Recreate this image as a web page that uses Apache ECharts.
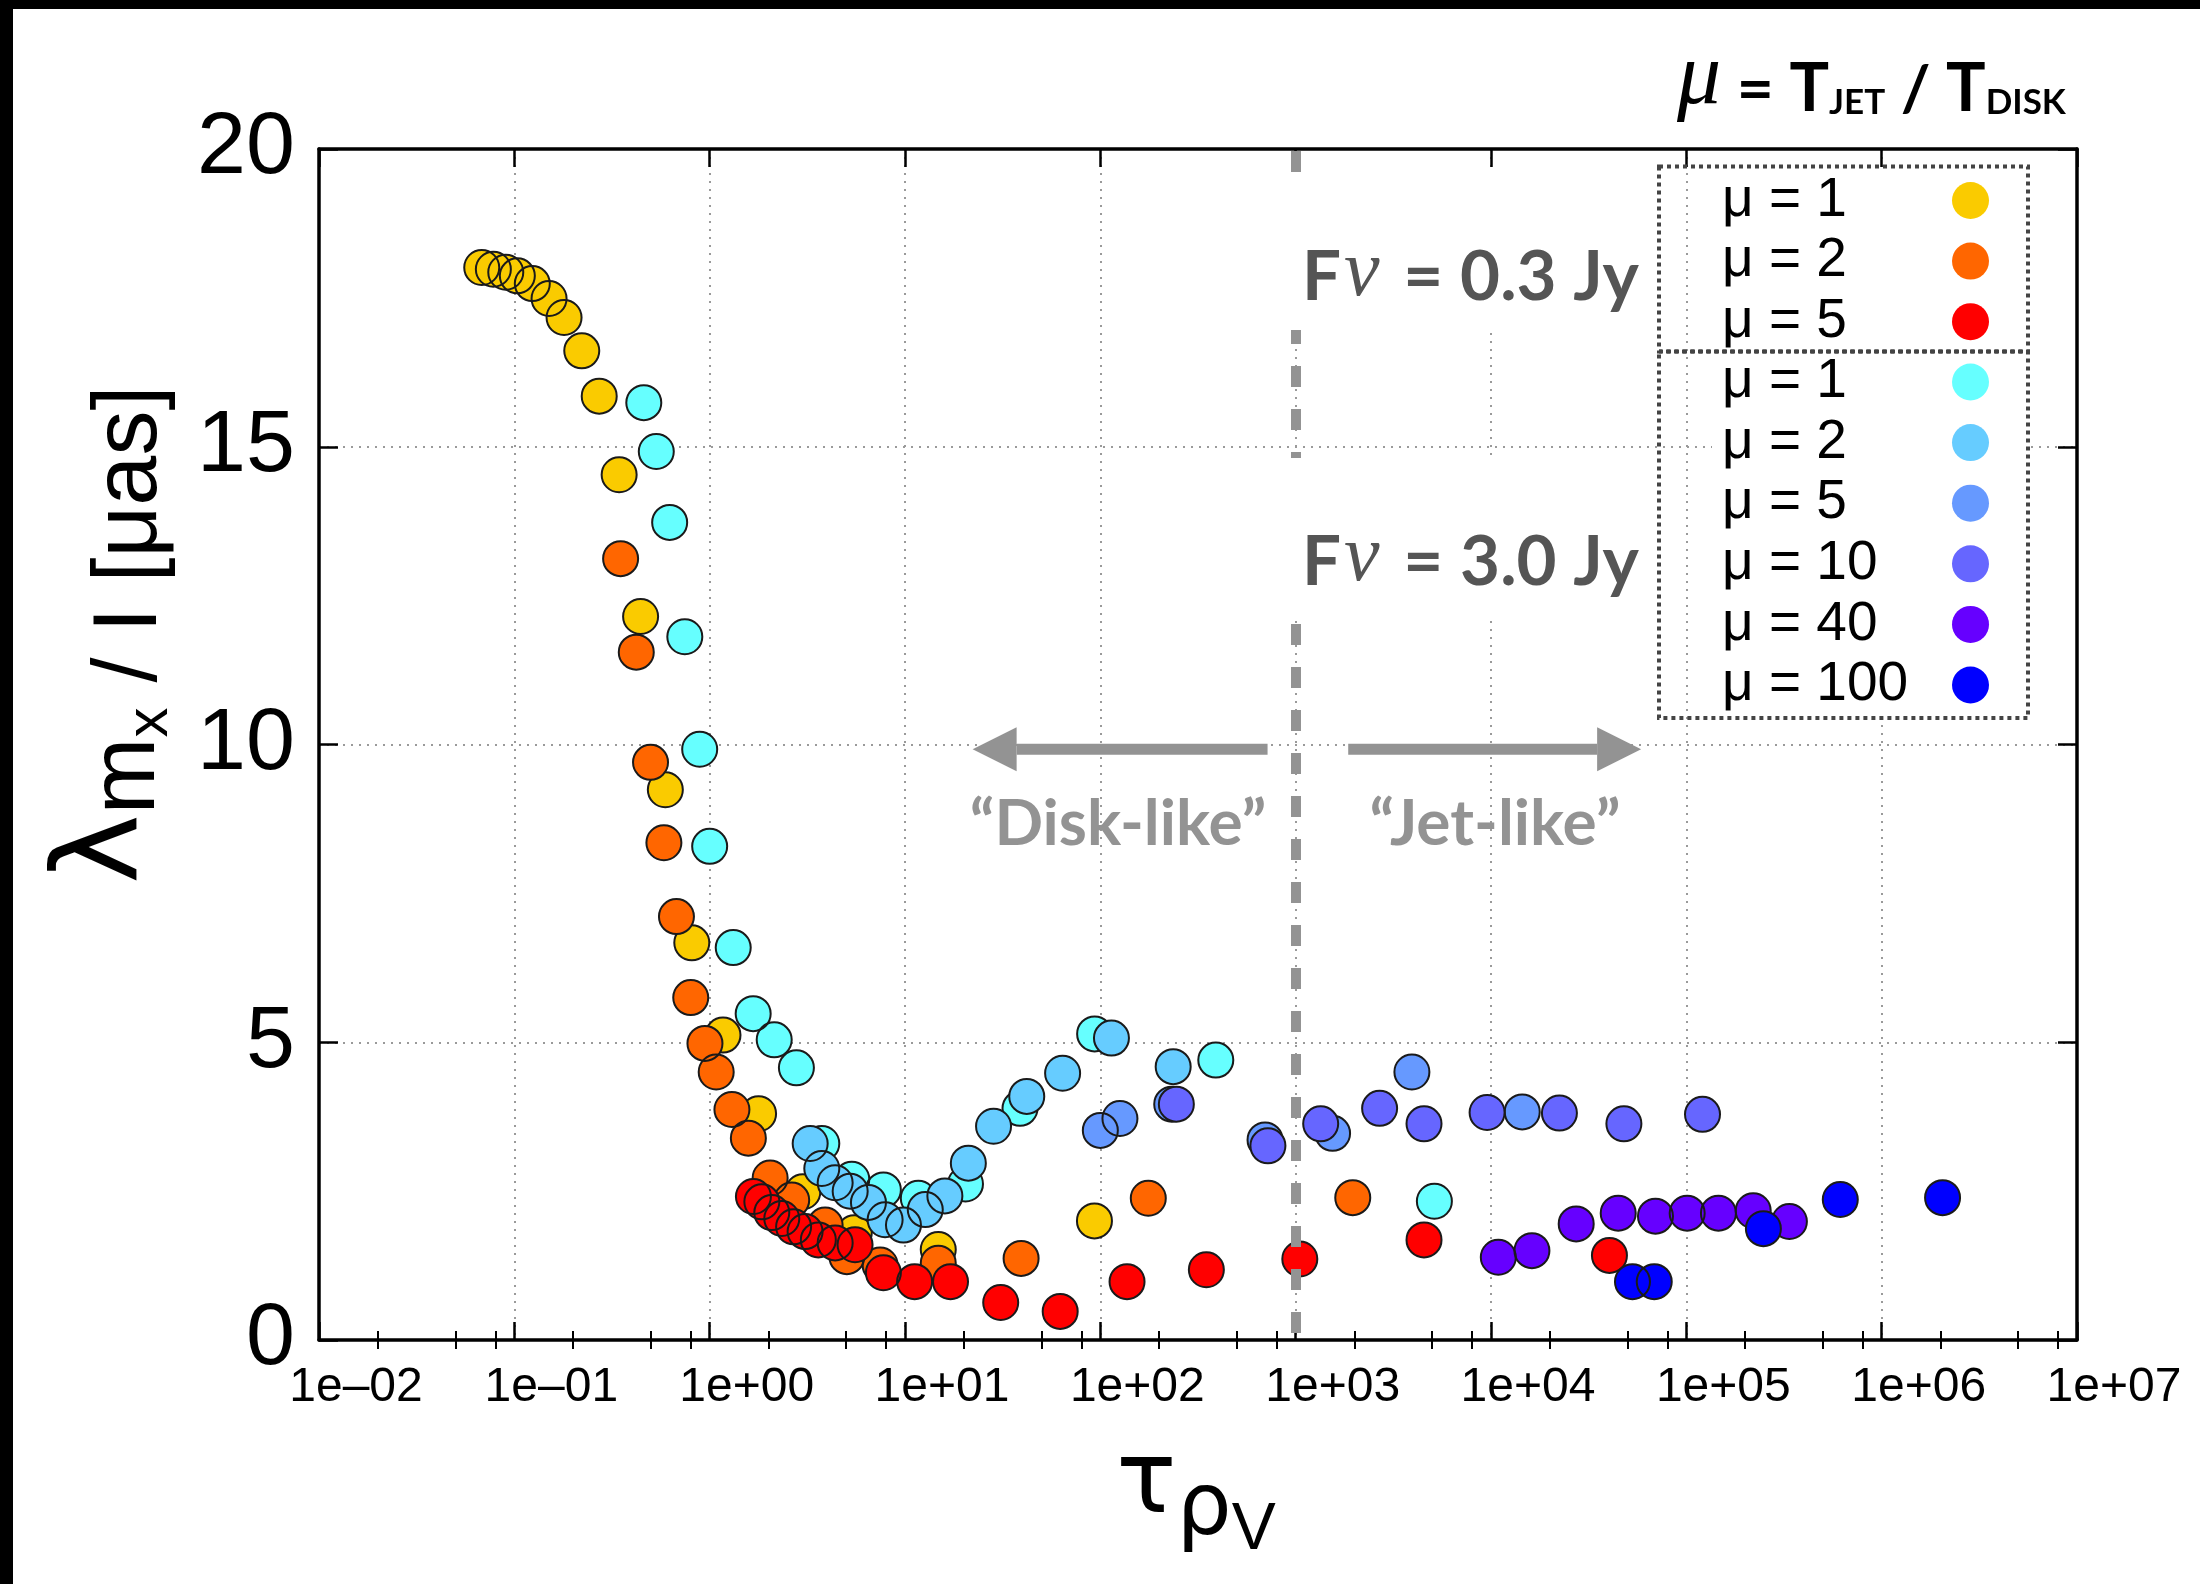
<!DOCTYPE html>
<html>
<head>
<meta charset="utf-8">
<script src="https://cdn.jsdelivr.net/npm/echarts@6/dist/echarts.min.js"></script>
<style>
html,body{margin:0;padding:0;background:#ffffff;}
#chart{width:2200px;height:1584px;}
</style>
</head>
<body>
<div id="chart"></div>
<script>
// ---------------- data ----------------
// axis ticks
const X_MIN = 0.01, X_MAX = 1e7;
const X_TICKS = [0.01, 0.1, 1, 10, 100, 1e3, 1e4, 1e5, 1e6, 1e7];
const X_TICK_LABELS = ['1e\u201302', '1e\u201301', '1e+00', '1e+01', '1e+02', '1e+03', '1e+04', '1e+05', '1e+06', '1e+07'];
const X_MINOR = [0.02, 0.05, 0.08, 0.2, 0.5, 0.8, 2, 5, 8, 20, 50, 80, 200, 500, 800, 2e3, 5e3, 8e3,
                 2e4, 5e4, 8e4, 2e5, 5e5, 8e5, 2e6, 5e6, 8e6];
const Y_MIN = 0, Y_MAX = 20, Y_STEP = 5;

// F_nu = 0.3 Jy
const jy03_mu1 = [[0.0681,18.01],[0.0781,17.98],[0.0904,17.93],[0.1036,17.87],[0.1236,17.74],[0.1506,17.49],
  [0.1797,17.17],[0.2214,16.61],[0.272,15.85],[0.344,14.53],[0.443,12.15],[0.593,9.24],[0.81,6.67],[1.17,5.12],
  [1.78,3.80],[3.0,2.49],[5.5,1.80],[14.8,1.52],[93.3,2.0]];
const jy03_mu2 = [[0.35,13.12],[0.421,11.55],[0.498,9.70],[0.583,8.35],[0.676,7.11],[0.80,5.75],[0.946,4.98],
  [1.08,4.50],[1.30,3.87],[1.578,3.39],[2.04,2.72],[2.63,2.35],[3.9,1.93],[5.04,1.40],[7.46,1.26],[14.8,1.29],
  [39.3,1.37],[176,2.38],[1960,2.39]];
const jy03_mu5 = [[1.675,2.41],[1.85,2.32],[2.08,2.14],[2.34,2.04],[2.69,1.90],[3.08,1.82],[3.60,1.68],[4.39,1.63],
  [5.55,1.60],[7.75,1.13],[11.2,0.98],[17.1,0.98],[30.9,0.63],[62.3,0.48],[137,0.98],[349,1.18],[1050,1.36],
  [4540,1.68],[40400,1.42]];
// F_nu = 3.0 Jy
const jy30_mu1 = [[0.46,15.74],[0.533,14.92],[0.624,13.73],[0.746,11.81],[0.889,9.92],[1.0,8.29],[1.32,6.59],
  [1.67,5.48],[2.14,5.04],[2.78,4.57],[3.75,3.30],[5.34,2.70],[7.75,2.52],[11.7,2.38],[20.4,2.62],[38.8,3.89],
  [93.5,5.14],[390,4.70],[5130,2.33]];
const jy30_mu2 = [[3.27,3.30],[3.75,2.88],[4.39,2.64],[5.24,2.50],[6.5,2.31],[7.91,2.02],[9.82,1.93],[12.7,2.19],
  [16.0,2.42],[21.1,2.97],[28.4,3.59],[42.0,4.09],[64.1,4.48],[114,5.07],[236,4.59]];
const jy30_mu5 = [[100,3.52],[126,3.72],[232,3.96],[697,3.36],[1545,3.47],[3936,4.50],[14450,3.83]];
const jy30_mu10 = [[245,3.96],[721,3.26],[1343,3.63],[2690,3.89],[4540,3.63],[9550,3.82],[22400,3.81],
  [47900,3.63],[121000,3.79]];
const jy30_mu40 = [[10900,1.39],[16200,1.50],[27300,1.95],[44800,2.13],[69500,2.08],[101000,2.13],[146000,2.13],
  [220000,2.17],[337000,1.99]];
const jy30_mu100 = [[53000,0.98],[68500,0.98],[248000,1.87],[614000,2.36],[2050000,2.39]];

// series labels
const LABELS_03 = ['\u03bc = 1', '\u03bc = 2', '\u03bc = 5'];
const LABELS_30 = ['\u03bc = 1', '\u03bc = 2', '\u03bc = 5', '\u03bc = 10', '\u03bc = 40', '\u03bc = 100'];

// annotation anchors (data space)
const DIVIDER_X = 1000;
const ARROW_Y = 9.92;
const LEFT_ARROW = [718, 22.2];     // tail, tip
const RIGHT_ARROW = [1858, 58700];  // tail, tip

// ---------------- style ----------------
const COLORS_03 = ['#FACB00', '#FF6600', '#FF0000'];
const COLORS_30 = ['#66FFFF', '#66CCFF', '#6699FF', '#6666FF', '#6600FF', '#0000FF'];
const SANS = 'Liberation Sans';
const AVE = 'Lato';
const SERIF = 'Liberation Serif';

const groups = [];
[jy03_mu1, jy03_mu2, jy03_mu5].forEach((d, i) => groups.push({name: '0.3|' + LABELS_03[i], color: COLORS_03[i], data: d}));
[jy30_mu1, jy30_mu2, jy30_mu5, jy30_mu10, jy30_mu40, jy30_mu100].forEach((d, i) => groups.push({name: '3.0|' + LABELS_30[i], color: COLORS_30[i], data: d}));

const chart = echarts.init(document.getElementById('chart'), null, {renderer: 'canvas', width: 2200, height: 1584});

function fmtX(v) {
  const i = X_TICKS.findIndex(t => Math.abs(Math.log10(t) - Math.log10(v)) < 1e-6);
  return i >= 0 ? X_TICK_LABELS[i] : '';
}

const gridLine = {show: true, lineStyle: {color: '#9a9a9a', width: 2, type: [2, 6]}};
const frameLine = {show: true, onZero: false, lineStyle: {color: '#000', width: 3.5}};
function logAxis(extra) {
  return Object.assign({type: 'log', logBase: 10, min: X_MIN, max: X_MAX, gridIndex: 0, splitNumber: 9,
    minorTick: {show: false}, minorSplitLine: {show: false}}, extra);
}
const majorTick = {show: true, inside: true, length: 18, lineStyle: {color: '#000', width: 2.5}, customValues: X_TICKS};
const minorTickX = {show: true, inside: true, length: 9, lineStyle: {color: '#000', width: 2}, customValues: X_MINOR};

const xAxes = [
  logAxis({position: 'bottom', axisLine: frameLine, axisTick: majorTick,
    axisLabel: {show: true, customValues: X_TICKS, formatter: fmtX, fontFamily: SANS, fontSize: 48, color: '#000',
      margin: 24, padding: [0, 0, 0, 74]}, splitLine: gridLine}),
  logAxis({position: 'top', axisLine: frameLine, axisTick: majorTick, axisLabel: {show: false}, splitLine: {show: false}}),
  logAxis({position: 'bottom', axisLine: {show: false}, axisTick: minorTickX, axisLabel: {show: false}, splitLine: {show: false}}),
  logAxis({position: 'top', axisLine: {show: false}, axisTick: minorTickX, axisLabel: {show: false}, splitLine: {show: false}})
];
const yAxes = [
  {type: 'value', min: Y_MIN, max: Y_MAX, interval: Y_STEP, position: 'left', axisLine: frameLine,
    axisTick: {show: true, inside: true, length: 19, lineStyle: {color: '#000', width: 2.5}},
    axisLabel: {show: true, fontFamily: SANS, fontSize: 88, color: '#000', margin: 24},
    splitLine: gridLine},
  {type: 'value', min: Y_MIN, max: Y_MAX, interval: Y_STEP, position: 'right', axisLine: frameLine,
    axisTick: {show: true, inside: true, length: 19, lineStyle: {color: '#000', width: 2.5}},
    axisLabel: {show: false}, splitLine: {show: false}}
];

const series = [];
groups.forEach((g, i) => {
  const fill = {name: g.name, type: 'scatter', xAxisIndex: 0, yAxisIndex: 0, data: g.data, symbol: 'circle',
    symbolSize: 35, itemStyle: {color: g.color, borderWidth: 0, opacity: 1}, silent: true,
    emphasis: {disabled: true}, z: 2};
  if (i === 0) {
    fill.markLine = {silent: true, z: 2.5, symbol: ['none', 'none'], label: {show: false}, animation: false,
      emphasis: {disabled: true},
      lineStyle: {color: '#939393', width: 10, type: [21, 22], dashOffset: 36, cap: 'butt', opacity: 1},
      data: [[{coord: [DIVIDER_X, Y_MIN]}, {coord: [DIVIDER_X, Y_MAX]}]]};
  }
  series.push(fill);
  series.push({name: g.name + '|o', type: 'scatter', xAxisIndex: 0, yAxisIndex: 0, data: g.data, symbol: 'circle',
    symbolSize: 35, itemStyle: {color: 'rgba(0,0,0,0)', borderColor: '#1a1a1a', borderWidth: 2, opacity: 1},
    silent: true, emphasis: {disabled: true}, z: 2});
});

function legendCfg(names, top) {
  return {show: true, orient: 'vertical', left: 1722, top: top, align: 'right', padding: 0,
    itemWidth: 37, itemHeight: 37, itemGap: 5.6, icon: 'circle', selectedMode: false,
    itemStyle: {borderWidth: 0},
    data: names,
    formatter: n => '{t|' + n.split('|')[1] + '}',
    textStyle: {rich: {t: {width: 225, align: 'left', fontFamily: SANS, fontSize: 55, color: '#000'}}}};
}

chart.setOption({
  animation: false,
  backgroundColor: '#ffffff',
  grid: {left: 319, top: 149, width: 1758, height: 1191, containLabel: false},
  xAxis: xAxes,
  yAxis: yAxes,
  legend: [legendCfg(groups.slice(0, 3).map(g => g.name), 173),
           legendCfg(groups.slice(3).map(g => g.name), 354.5)],
  series: series
});

// ---------------- annotations ----------------
const toPx = (x, y) => chart.convertToPixel({xAxisIndex: 0, yAxisIndex: 0}, [x, y]);
const g = [];
// white background of the key entries and the labels' boxes
g.push({type: 'rect', z: 1, shape: {x: 1712, y: 170, width: 314, height: 546}, style: {fill: '#ffffff'}});
g.push({type: 'rect', z: 3, shape: {x: 1283, y: 173, width: 372, height: 157}, style: {fill: '#ffffff'}});
g.push({type: 'rect', z: 3, shape: {x: 1283, y: 458, width: 372, height: 159}, style: {fill: '#ffffff'}});
// key frames
g.push({type: 'rect', z: 5, shape: {x: 1659, y: 166.6, width: 369, height: 185}, style: {fill: 'none', stroke: '#444', lineWidth: 4, lineDash: [4, 4]}});
g.push({type: 'rect', z: 5, shape: {x: 1659, y: 351.6, width: 369, height: 366.4}, style: {fill: 'none', stroke: '#444', lineWidth: 4, lineDash: [4, 4]}});

// arrows
function arrow(tail, tip) {
  const a = toPx(tail, ARROW_Y), b = toPx(tip, ARROW_Y);
  const dir = Math.sign(b[0] - a[0]);
  const head = 44, half = 22, th = 11;
  const base = b[0] - dir * head;
  g.push({type: 'rect', z: 5, shape: {x: Math.min(a[0], base), y: a[1] - th / 2, width: Math.abs(base - a[0]), height: th}, style: {fill: '#939393'}});
  g.push({type: 'polygon', z: 5, shape: {points: [[b[0], b[1]], [base, b[1] - half], [base, b[1] + half]]}, style: {fill: '#939393'}});
}
arrow(LEFT_ARROW[0], LEFT_ARROW[1]);
arrow(RIGHT_ARROW[0], RIGHT_ARROW[1]);

// texts
g.push({type: 'text', z: 6, x: 1118, y: 824, style: {text: '\u201cDisk-like\u201d', fill: '#939393', font: 'bold 64px Lato', align: 'center', verticalAlign: 'middle'}});
g.push({type: 'text', z: 6, x: 1495, y: 824, style: {text: '\u201cJet-like\u201d', fill: '#939393', font: 'bold 64px Lato', align: 'center', verticalAlign: 'middle'}});

function fluxLabel(val, baseY) {
  return {type: 'text', z: 6, x: 1302, y: baseY - 72, style: {
    text: '{F|F}{n|\u03bd}{r| = ' + val + ' Jy}', align: 'left', verticalAlign: 'top',
    rich: {
      F: {fontFamily: AVE, fontWeight: 'bold', fontSize: 69, fill: '#555555', padding: [15, 0, 0, 0]},
      n: {fontFamily: SERIF, fontStyle: 'italic', fontSize: 80, fill: '#555555', padding: [8, 7, 0, 3]},
      r: {fontFamily: AVE, fontWeight: 'bold', fontSize: 69, fill: '#555555', padding: [15, 0, 0, 0]}
    }}};
}
g.push(fluxLabel('0.3', 298));
g.push(fluxLabel('3.0', 583));

// top-right title
g.push({type: 'text', z: 6, x: 1677, y: 30, style: {
  text: '{m|\u03bc}{e| = }{T|T}{s|JET}{e| / }{T|T}{s|DISK}', align: 'left', verticalAlign: 'top',
  rich: {
    m: {fontFamily: SERIF, fontStyle: 'italic', fontSize: 88, fill: '#000', padding: [6, 0, 0, 0]},
    e: {fontFamily: AVE, fontWeight: 'bold', fontSize: 64, fill: '#000', padding: [27, 0, 0, 0]},
    T: {fontFamily: AVE, fontWeight: 'bold', fontSize: 66, fill: '#000', padding: [25, 0, 0, 0]},
    s: {fontFamily: AVE, fontWeight: 'bold', fontSize: 35, fill: '#000', padding: [51, 0, 0, 0]}
  }}});

// y-axis title (rotated)
g.push({type: 'text', z: 6, x: 30, y: 884, rotation: Math.PI / 2, style: {
  text: '{l|\u03bb}{m|m}{x|x}{n| / I [\u03bcas]}', align: 'left', verticalAlign: 'top',
  rich: {
    l: {fontFamily: 'DejaVu Sans', fontSize: 118, fill: '#000', padding: [3, 0, 0, 0]},
    m: {fontFamily: SANS, fontSize: 92, fill: '#000', padding: [48, 0, 0, 0]},
    x: {fontFamily: SANS, fontSize: 60, fill: '#000', padding: [90, 0, 0, 0]},
    n: {fontFamily: SANS, fontSize: 90, fill: '#000', padding: [52, 0, 0, 0]}
  }}});

// x-axis title
g.push({type: 'text', z: 6, x: 1196, y: 1400, style: {
  text: '{t|\u03c4}{r|\u03c1}{v|V}', align: 'center', verticalAlign: 'top',
  rich: {
    t: {fontFamily: 'DejaVu Sans', fontSize: 100, fill: '#000', padding: [9, 0, 0, 0]},
    r: {fontFamily: 'DejaVu Sans', fontSize: 87, fill: '#000', padding: [58, 0, 0, 0]},
    v: {fontFamily: SANS, fontSize: 66, fill: '#000', padding: [98, 0, 0, 0]}
  }}});

// black edges of the figure
g.push({type: 'rect', z: 10, shape: {x: 0, y: 0, width: 2200, height: 9}, style: {fill: '#000'}});
g.push({type: 'rect', z: 10, shape: {x: 0, y: 0, width: 13, height: 1584}, style: {fill: '#000'}});

chart.setOption({graphic: {elements: g}});
</script>
</body>
</html>
